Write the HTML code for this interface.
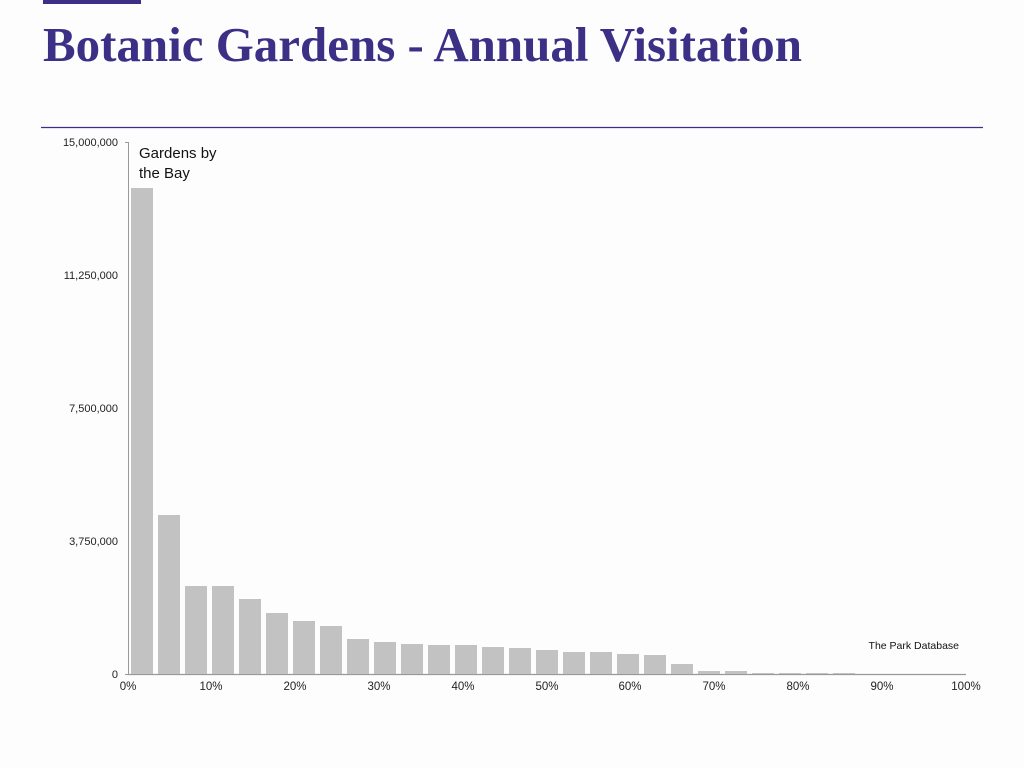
<!DOCTYPE html>
<html><head><meta charset="utf-8"><style>
body{margin:0;background:#fdfdfd;width:1024px;height:768px;overflow:hidden}
svg{display:block}
</style></head><body>
<svg width="1024" height="768" xmlns="http://www.w3.org/2000/svg">
<rect x="0" y="0" width="1024" height="768" fill="#fdfdfd"/>
<rect x="43" y="0" width="98" height="4" fill="#3b2f86"/>
<text x="43" y="61" font-family="Liberation Serif, serif" font-weight="bold" font-size="49" fill="#3b2f86" textLength="759" lengthAdjust="spacingAndGlyphs">Botanic Gardens - Annual Visitation</text>
<line x1="41" y1="127.5" x2="983" y2="127.5" stroke="#3b2f86" stroke-width="1.3"/>
<g font-family="Liberation Sans, sans-serif" font-size="11" fill="#222" text-anchor="end">
<text x="118" y="146">15,000,000</text>
<text x="118" y="279">11,250,000</text>
<text x="118" y="412">7,500,000</text>
<text x="118" y="545">3,750,000</text>
<text x="118" y="678">0</text>
</g>
<line x1="128.5" y1="142" x2="128.5" y2="674" stroke="#999" stroke-width="1"/>
<line x1="125" y1="142.5" x2="128" y2="142.5" stroke="#999"/>
<line x1="125" y1="674.5" x2="128" y2="674.5" stroke="#999"/>
<line x1="128" y1="674.5" x2="966" y2="674.5" stroke="#999" stroke-width="1.2"/>
<g fill="#c2c2c2">
<rect x="131" y="188" width="22" height="486"/>
<rect x="158" y="515" width="22" height="159"/>
<rect x="185" y="586" width="22" height="88"/>
<rect x="212" y="586" width="22" height="88"/>
<rect x="239" y="599" width="22" height="75"/>
<rect x="266" y="613" width="22" height="61"/>
<rect x="293" y="621" width="22" height="53"/>
<rect x="320" y="626" width="22" height="48"/>
<rect x="347" y="639" width="22" height="35"/>
<rect x="374" y="642" width="22" height="32"/>
<rect x="401" y="644" width="22" height="30"/>
<rect x="428" y="645" width="22" height="29"/>
<rect x="455" y="645" width="22" height="29"/>
<rect x="482" y="647" width="22" height="27"/>
<rect x="509" y="648" width="22" height="26"/>
<rect x="536" y="650" width="22" height="24"/>
<rect x="563" y="652" width="22" height="22"/>
<rect x="590" y="652" width="22" height="22"/>
<rect x="617" y="654" width="22" height="20"/>
<rect x="644" y="655" width="22" height="19"/>
<rect x="671" y="664" width="22" height="10"/>
<rect x="698" y="671" width="22" height="3"/>
<rect x="725" y="671" width="22" height="3"/>
<rect x="752" y="673" width="22" height="1"/>
<rect x="779" y="673" width="22" height="1"/>
<rect x="806" y="673" width="22" height="1"/>
<rect x="833" y="673" width="22" height="1"/>
</g>
<g font-family="Liberation Sans, sans-serif" font-size="11.5" fill="#222" text-anchor="middle">
<text x="128" y="690">0%</text>
<text x="211" y="690">10%</text>
<text x="295" y="690">20%</text>
<text x="379" y="690">30%</text>
<text x="463" y="690">40%</text>
<text x="547" y="690">50%</text>
<text x="630" y="690">60%</text>
<text x="714" y="690">70%</text>
<text x="798" y="690">80%</text>
<text x="882" y="690">90%</text>
<text x="966" y="690">100%</text>
</g>
<text x="139" y="158" font-family="Liberation Sans, sans-serif" font-size="15" fill="#111">Gardens by</text>
<text x="139" y="178" font-family="Liberation Sans, sans-serif" font-size="15" fill="#111">the Bay</text>
<text x="959" y="649" text-anchor="end" font-family="Liberation Sans, sans-serif" font-size="10.5" fill="#111">The Park Database</text>
</svg>
</body></html>
